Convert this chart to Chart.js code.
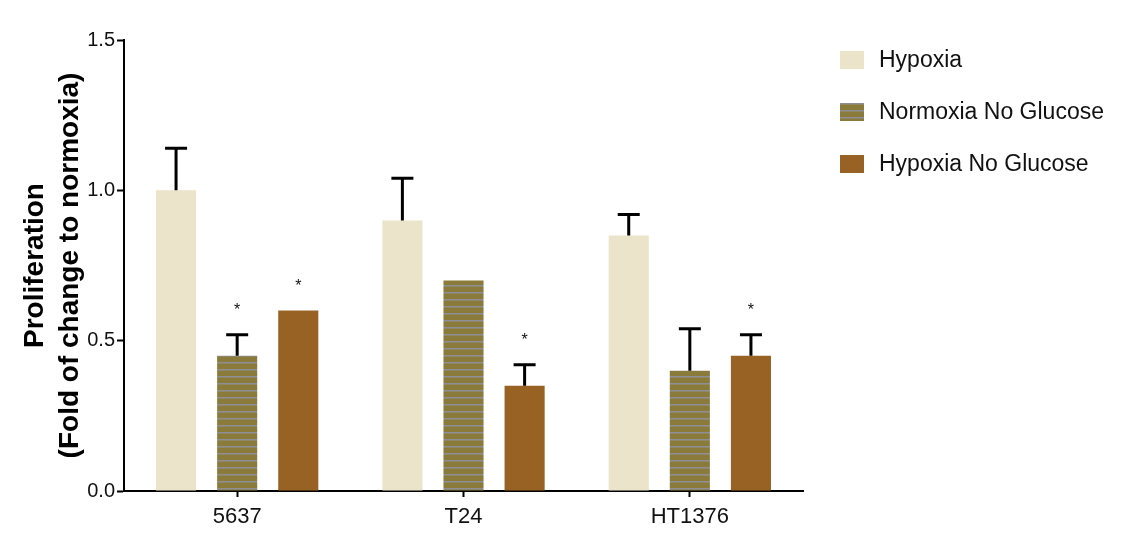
<!DOCTYPE html>
<html>
<head>
<meta charset="utf-8">
<script src="https://cdn.jsdelivr.net/npm/chart.js@4/dist/chart.umd.min.js"></script>
<style>
  html, body { margin: 0; padding: 0; background: #fff; }
  #wrap { width: 1132px; height: 541px; }
</style>
</head>
<body>
<div id="wrap"><canvas id="chart" width="1132" height="541"></canvas></div>
<script>
'use strict';

// data
const cellLines = ['5637', 'T24', 'HT1376'];
const seriesNames = ['Hypoxia', 'Normoxia No Glucose', 'Hypoxia No Glucose'];

const hypoxia = [1.0, 0.9, 0.85];
const normoxiaNoGlucose = [0.45, 0.70, 0.40];
const hypoxiaNoGlucose = [0.60, 0.35, 0.45];

// upper error (SD) per bar, 0 = no visible bar
const hypoxiaErr = [0.14, 0.14, 0.07];
const normoxiaNoGlucoseErr = [0.07, 0, 0.14];
const hypoxiaNoGlucoseErr = [0, 0.07, 0.07];

// significance marks
const normoxiaNoGlucoseSig = [true, false, false];
const hypoxiaNoGlucoseSig = [true, true, true];

const yTicks = [0, 0.5, 1.0, 1.5];

// striped fill for the middle series
function stripePattern() {
  const c = document.createElement('canvas');
  c.width = 8; c.height = 7;
  const g = c.getContext('2d');
  g.fillStyle = '#8a7b3b';
  g.fillRect(0, 0, 8, 7);
  g.fillStyle = '#8e8e98';
  g.fillRect(0, 5, 8, 1);
  g.fillStyle = '#8d8768';
  g.fillRect(0, 6, 8, 1);
  return document.getElementById('chart').getContext('2d').createPattern(c, 'repeat');
}
const stripes = stripePattern();

const errorBars = {
  id: 'errorBars',
  afterDatasetsDraw(chart) {
    const ctx = chart.ctx;
    const y = chart.scales.y;
    ctx.save();
    chart.data.datasets.forEach((ds, i) => {
      const meta = chart.getDatasetMeta(i);
      meta.data.forEach((bar, j) => {
        const top = ds.data[j] + (ds.errors[j] || 0);
        if (ds.errors[j]) {
          const y0 = y.getPixelForValue(ds.data[j]);
          const y1 = y.getPixelForValue(top);
          ctx.strokeStyle = '#000';
          ctx.lineWidth = 3;
          ctx.beginPath();
          ctx.moveTo(bar.x, y0);
          ctx.lineTo(bar.x, y1);
          ctx.moveTo(bar.x - 11, y1);
          ctx.lineTo(bar.x + 11, y1);
          ctx.stroke();
        }
        if (ds.sig && ds.sig[j]) {
          ctx.fillStyle = '#111';
          ctx.font = '16px "Liberation Sans", Arial, sans-serif';
          ctx.textAlign = 'center';
          ctx.textBaseline = 'middle';
          ctx.fillText('*', bar.x, y.getPixelForValue(top) - 24);
        }
      });
    });
    ctx.restore();
  }
};

const sideLegend = {
  id: 'sideLegend',
  afterDraw(chart) {
    const ctx = chart.ctx;
    ctx.save();
    ctx.font = '23px "Liberation Sans", Arial, sans-serif';
    ctx.textBaseline = 'middle';
    ctx.textAlign = 'left';
    chart.data.datasets.forEach((ds, i) => {
      const cy = 60 + i * 52;
      ctx.fillStyle = ds.backgroundColor;
      ctx.fillRect(840, cy - 9, 24, 18);
      ctx.fillStyle = '#111';
      ctx.fillText(ds.label, 879, cy + 1);
    });
    ctx.restore();
  }
};

new Chart(document.getElementById('chart'), {
  type: 'bar',
  data: {
    labels: cellLines,
    datasets: [
      { label: seriesNames[0], data: hypoxia, errors: hypoxiaErr, backgroundColor: '#ebe4ca' },
      { label: seriesNames[1], data: normoxiaNoGlucose, errors: normoxiaNoGlucoseErr, sig: normoxiaNoGlucoseSig, backgroundColor: stripes },
      { label: seriesNames[2], data: hypoxiaNoGlucose, errors: hypoxiaNoGlucoseErr, sig: hypoxiaNoGlucoseSig, backgroundColor: '#976224' }
    ]
  },
  options: {
    responsive: false,
    animation: false,
    categoryPercentage: 0.81,
    barPercentage: 0.656,
    layout: { padding: { left: 0, right: 329, top: 40, bottom: 0 } },
    plugins: {
      legend: { display: false },
      tooltip: { enabled: false }
    },
    scales: {
      x: {
        grid: { display: true, offset: false, drawOnChartArea: false, tickLength: 6, tickWidth: 2, tickColor: '#000' },
        border: { display: true, color: '#000', width: 2 },
        ticks: { color: '#111', padding: 7, font: { size: 22, family: '"Liberation Sans", Arial, sans-serif' } },
        afterFit(scale) { scale.height = 50; }
      },
      y: {
        min: 0,
        max: 1.5,
        afterBuildTicks(scale) { scale.ticks = yTicks.map(v => ({ value: v })); },
        grid: { display: true, drawOnChartArea: false, tickLength: 7, tickWidth: 2, tickColor: '#000' },
        border: { display: true, color: '#000', width: 2 },
        ticks: {
          color: '#111', padding: 2,
          font: { size: 20, family: '"Liberation Sans", Arial, sans-serif' },
          callback: v => v.toFixed(1)
        },
        title: {
          display: true,
          text: ['Proliferation', '(Fold of change to normoxia)'],
          color: '#000',
          padding: { top: 17, bottom: 0 },
          font: { size: 28, weight: 'bold', lineHeight: 1.28, family: '"Liberation Sans", Arial, sans-serif' }
        },
        afterFit(scale) { scale.width = 124; }
      }
    }
  },
  plugins: [errorBars, sideLegend]
});
</script>
</body>
</html>
